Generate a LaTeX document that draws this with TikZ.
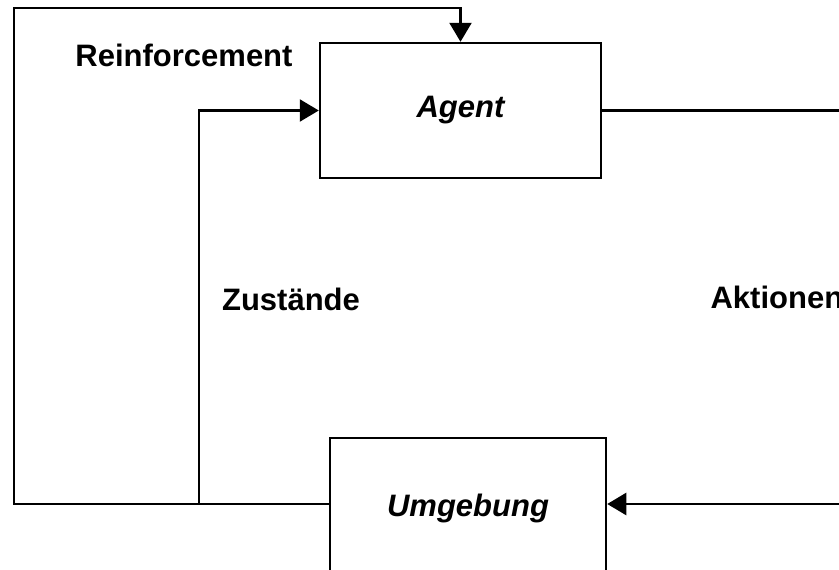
\documentclass[tikz,border=0pt]{standalone}
\usepackage{fontspec}
\setmainfont{Liberation Sans}
\usetikzlibrary{arrows.meta,positioning}

\begin{document}
\begin{tikzpicture}[x=1pt,y=-1pt,line width=2.5pt,
    block/.style={draw, fill=white, inner sep=0pt, font=\fontsize{31}{36}\selectfont\bfseries\itshape},
    lbl/.style={font=\fontsize{31}{36}\selectfont\bfseries},
    >={Triangle[length=19pt,width=22pt]}]
    \useasboundingbox (0,0) rectangle (839,570);
    \clip (0,0) rectangle (839,570);

    \node[block, minimum width=281pt, minimum height=135pt] (agent) at (460.5,110.5) {Agent};
    \node[block, minimum width=276pt, minimum height=140pt] (umg) at (468,508) {\raisebox{4pt}{Umgebung}};

    \node[lbl] (reinf) at (184,55) {Reinforcement};
    \node[lbl] (zust) at (291,299) {Zustände};
    \node[lbl, anchor=west] (akt) at (706,297) {Aktionen};

    \coordinate (tl) at (14,8);
    \coordinate (bl) at (14,504);
    \coordinate (zs) at (199,504);
    \coordinate (rt) at (870,110.5);
    \coordinate (rb) at (870,504);

    \draw[->] (umg.west |- bl) -- (bl) -- (tl) -| (agent.north);
    \draw[->] (zs) |- (agent.west);
    \draw[->] (agent.east) -- (rt) -- (rb) -- (umg.east |- rb);
\end{tikzpicture}
\end{document}
